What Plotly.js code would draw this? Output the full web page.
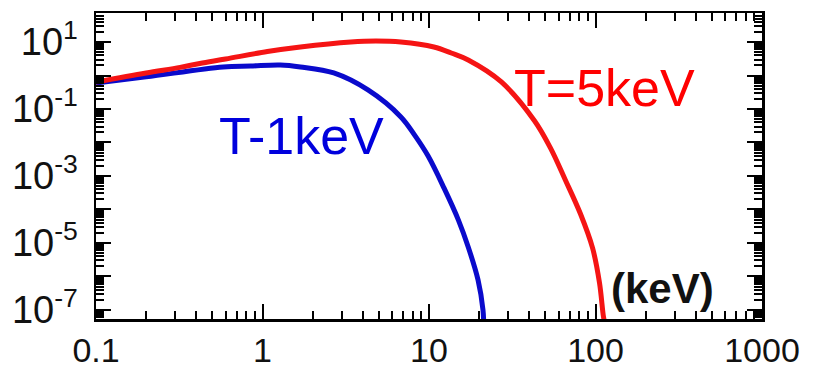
<!DOCTYPE html>
<html>
<head>
<meta charset="utf-8">
<script src="https://cdn.plot.ly/plotly-3.0.1.min.js"></script>
<style>html,body{margin:0;padding:0;background:#fff;}#chart{width:814px;height:371px;}</style>
</head>
<body>
<div id="chart"></div>
<script>
// Energy (keV) and spectrum values
const xT5 = [0.1, 0.2, 0.32, 0.42, 0.6, 1.07, 1.69, 3.39, 4.8, 6.78, 10.7, 13.6, 17.2, 27.2, 43, 53.6, 65.9, 81.3, 96, 105.7, 111.7, 114];
const yT5 = [0.64, 1.19, 1.75, 2.28, 3.1, 5.2, 7.1, 10, 10.7, 10, 7.1, 4.7, 2.9, 0.64, 0.0447, 0.0069, 7.6e-4, 7.3e-5, 7.1e-6, 6.4e-7, 6.2e-8, 4e-8];
const xT1 = [0.1, 0.2, 0.58, 0.85, 1.28, 1.69, 2.68, 4.3, 6.78, 8.2, 9.86, 12.3, 15.0, 17.2, 19.7, 21.1, 21.3];
const yT1 = [0.60, 0.91, 1.8, 1.92, 2.06, 1.8, 1.19, 0.37, 0.058, 0.0166, 0.004, 4.4e-4, 4.9e-5, 7.6e-6, 7.9e-7, 1e-7, 4e-8];

const xTickVals = [0.1, 1, 10, 100, 1000];
const xTickText = ['0.1', '1', '10', '100', '1000'];
const yTickVals = [1e-7, 1e-6, 1e-5, 1e-4, 1e-3, 1e-2, 1e-1, 1, 10];
const yTickText = ['10<sup>-7</sup>', '', '10<sup>-5</sup>', '', '10<sup>-3</sup>', '', '10<sup>-1</sup>', '', '10<sup>1</sup>'];

const labelT5 = 'T=5keV';
const labelT1 = 'T-1keV';
const labelUnit = '(keV)';

function minorVals(lo, hi) {
  const v = [];
  for (let e = lo; e < hi; e++) for (let m = 2; m <= 9; m++) v.push(m * Math.pow(10, e));
  return v;
}

const font = 'Liberation Sans, Arial, sans-serif';

const axisCommon = {
  type: 'log',
  showline: true, linecolor: '#000', linewidth: 2.5,
  mirror: 'ticks',
  ticks: 'inside', ticklen: 15, tickwidth: 2, tickcolor: '#000',
  showgrid: false, zeroline: false,
  tickmode: 'array'
};

const layout = {
  width: 814, height: 371,
  margin: {l: 96, r: 52, t: 13, b: 52},
  paper_bgcolor: '#fff', plot_bgcolor: '#fff',
  showlegend: false,
  xaxis: Object.assign({}, axisCommon, {
    range: [-1, 3],
    tickvals: xTickVals, ticktext: xTickText,
    tickfont: {family: font, size: 34, color: '#111'},
    minor: {tickmode: 'array', tickvals: minorVals(-1, 3), ticks: 'inside', ticklen: 8, tickwidth: 2, tickcolor: '#000', showgrid: false}
  }),
  yaxis: Object.assign({}, axisCommon, {
    range: [-7.27, 1.866],
    tickvals: yTickVals, ticktext: yTickText,
    tickfont: {family: font, size: 38, color: '#111'},
    ticklabelstandoff: 8,
    minor: {tickmode: 'array', tickvals: minorVals(-8, 2), ticks: 'inside', ticklen: 8, tickwidth: 2, tickcolor: '#000', showgrid: false}
  }),
  annotations: [
    {text: labelT5, xref: 'paper', yref: 'paper', x: 0.764, y: 0.755, showarrow: false, xanchor: 'center', yanchor: 'middle', font: {family: font, size: 52, color: '#ff0000'}},
    {text: labelT1, xref: 'paper', yref: 'paper', x: 0.309, y: 0.598, showarrow: false, xanchor: 'center', yanchor: 'middle', font: {family: font, size: 52, color: '#0000dd'}},
    {text: '<b>' + labelUnit + '</b>', xref: 'paper', yref: 'paper', x: 0.850, y: 0.101, showarrow: false, xanchor: 'center', yanchor: 'middle', font: {family: font, size: 42, color: '#111'}}
  ]
};

const data = [
  {x: xT1, y: yT1, type: 'scatter', mode: 'lines', line: {color: '#0a0acc', width: 5, shape: 'spline', smoothing: 1}, name: labelT1},
  {x: xT5, y: yT5, type: 'scatter', mode: 'lines', line: {color: '#f51414', width: 5, shape: 'spline', smoothing: 1}, name: labelT5}
];

Plotly.newPlot('chart', data, layout, {staticPlot: true, displayModeBar: false});
</script>
</body>
</html>
